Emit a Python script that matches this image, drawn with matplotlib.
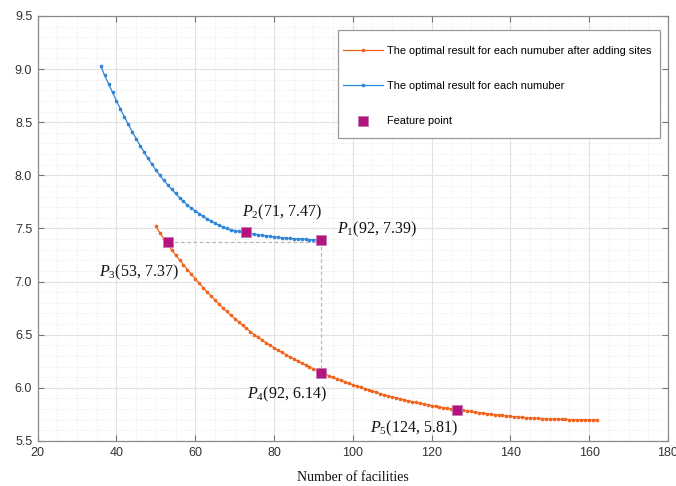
import matplotlib
matplotlib.use("Agg")
import matplotlib.pyplot as plt
from matplotlib.patches import Rectangle
from matplotlib.ticker import MultipleLocator, FormatStrFormatter

# blue curve: optimal result for each number (x = 36..92)
blue_x = list(range(36, 93))
blue_y = [9.03, 8.94, 8.86, 8.78, 8.70, 8.625, 8.55, 8.48, 8.41, 8.345,
          8.28, 8.22, 8.16, 8.105, 8.05, 8.00, 7.955, 7.91, 7.87, 7.83,
          7.79, 7.755, 7.72, 7.69, 7.665, 7.64, 7.615, 7.59, 7.57, 7.55,
          7.53, 7.515, 7.50, 7.488, 7.48, 7.472, 7.466, 7.46, 7.453, 7.447,
          7.441, 7.436, 7.431, 7.426, 7.421, 7.417, 7.413, 7.41, 7.407, 7.404,
          7.402, 7.40, 7.398, 7.396, 7.395, 7.394, 7.393]

# orange curve: optimal result after adding sites (x = 50..162)
orange_x = list(range(50, 163))
orange_y = [7.52, 7.46, 7.405, 7.35, 7.30, 7.252, 7.205, 7.159, 7.114, 7.07,
            7.027, 6.985, 6.944, 6.904, 6.865, 6.827, 6.79, 6.754, 6.719, 6.685,
            6.652, 6.62, 6.589, 6.559, 6.53, 6.502, 6.475, 6.449, 6.424, 6.40,
            6.377, 6.355, 6.333, 6.312, 6.292, 6.272, 6.253, 6.234, 6.216, 6.198,
            6.18, 6.163, 6.146, 6.13, 6.114, 6.099, 6.084, 6.07, 6.056, 6.043,
            6.03, 6.017, 6.005, 5.993, 5.981, 5.97, 5.958, 5.946, 5.935, 5.925,
            5.915, 5.906, 5.897, 5.888, 5.879, 5.871, 5.863, 5.855, 5.848, 5.841,
            5.834, 5.827, 5.821, 5.815, 5.809, 5.803, 5.798, 5.793, 5.788, 5.783,
            5.778, 5.773, 5.768, 5.763, 5.758, 5.753, 5.748, 5.744, 5.74, 5.736,
            5.732, 5.729, 5.726, 5.723, 5.72, 5.717, 5.715, 5.713, 5.711, 5.709,
            5.707, 5.706, 5.705, 5.704, 5.703, 5.702, 5.701, 5.70, 5.70, 5.699,
            5.699, 5.698, 5.698]

# feature points as drawn
feat_names = ["P1", "P2", "P3", "P4", "P5"]
feat_x = [92, 73, 53, 92, 126.5]
feat_y = [7.39, 7.465, 7.37, 6.14, 5.795]
feat_labels = [r"$P_1$(92, 7.39)", r"$P_2$(71, 7.47)", r"$P_3$(53, 7.37)",
               r"$P_4$(92, 6.14)", r"$P_5$(124, 5.81)"]
label_pos = [(96.0, 7.49), (71.9, 7.65), (35.6, 7.09), (73.1, 5.94), (104.4, 5.62)]

plt.rcParams["mathtext.fontset"] = "custom"
plt.rcParams["mathtext.rm"] = "Liberation Serif"
plt.rcParams["mathtext.it"] = "Liberation Serif:italic"

W, H = 676, 486
fig = plt.figure(figsize=(W / 100, H / 100), dpi=100)
ax = fig.add_axes([0.0558, 0.0926, 0.9322, 0.8745])

orange = "#f0641e"
blue = "#2f86d8"
magenta = "#b5137f"

ax.plot(orange_x, orange_y, color=orange, lw=0.9, marker=".", ms=3.2,
        label="The optimal result for each numuber after adding sites", zorder=3)
ax.plot(blue_x, blue_y, color=blue, lw=0.9, marker=".", ms=3.2,
        label="The optimal result for each numuber", zorder=3)

# guide lines between feature points
ax.plot([feat_x[2], feat_x[0]], [feat_y[2], feat_y[2]], color="#b8b8b8", lw=0.9,
        ls=(0, (3, 2)), zorder=2)
ax.plot([feat_x[0], feat_x[3]], [feat_y[0], feat_y[3]], color="#b8b8b8", lw=0.9,
        ls=(0, (3, 2)), zorder=2)

ax.plot(feat_x, feat_y, ls="none", marker="s", ms=7, color=magenta,
        mec="#c27ab0", mew=0.6, label="Feature point", zorder=4)

for lbl, (tx, ty) in zip(feat_labels, label_pos):
    ax.text(tx, ty, lbl, fontsize=11.5, family="Liberation Serif",
            va="center", ha="left", color="#111111")

ax.set_xlim(20, 180)
ax.set_ylim(5.5, 9.5)
ax.xaxis.set_major_locator(MultipleLocator(20))
ax.xaxis.set_minor_locator(MultipleLocator(5))
ax.yaxis.set_major_locator(MultipleLocator(0.5))
ax.yaxis.set_minor_locator(MultipleLocator(0.1))
ax.yaxis.set_major_formatter(FormatStrFormatter("%.1f"))

ax.grid(which="major", color="#e2e2e2", lw=0.8)
ax.grid(which="minor", color="#e6e6e6", lw=0.6, ls=":")
ax.set_axisbelow(True)

ax.tick_params(which="major", direction="in", length=4, width=0.8, color="#777777",
               top=True, right=True, labelsize=9, labelcolor="#333333", pad=4)
ax.tick_params(which="minor", length=0)
for lab in ax.get_xticklabels() + ax.get_yticklabels():
    lab.set_family("Liberation Sans")
for s in ax.spines.values():
    s.set_color("#8a8a8a")
    s.set_linewidth(0.9)

ax.set_xlabel("Number of facilities", family="Liberation Serif", fontsize=10,
              color="#111111", labelpad=9)

# legend box (MATLAB style: tall padding, thin side margins)
box = Rectangle((338 / W, 1 - 138 / H), 322 / W, 108 / H, transform=fig.transFigure,
                facecolor="white", edgecolor="#999999", lw=0.9, zorder=5)
ax.add_patch(box)
leg = ax.legend(loc="upper left", bbox_to_anchor=(343 / W, 1 - 46 / H),
                bbox_transform=fig.transFigure, borderaxespad=0, borderpad=0,
                numpoints=1, prop={"family": "Liberation Sans", "size": 7.9},
                labelspacing=2.3, handlelength=3.6, handletextpad=0.4,
                frameon=False)
leg.set_zorder(6)

fig.savefig("out.png", dpi=100)
